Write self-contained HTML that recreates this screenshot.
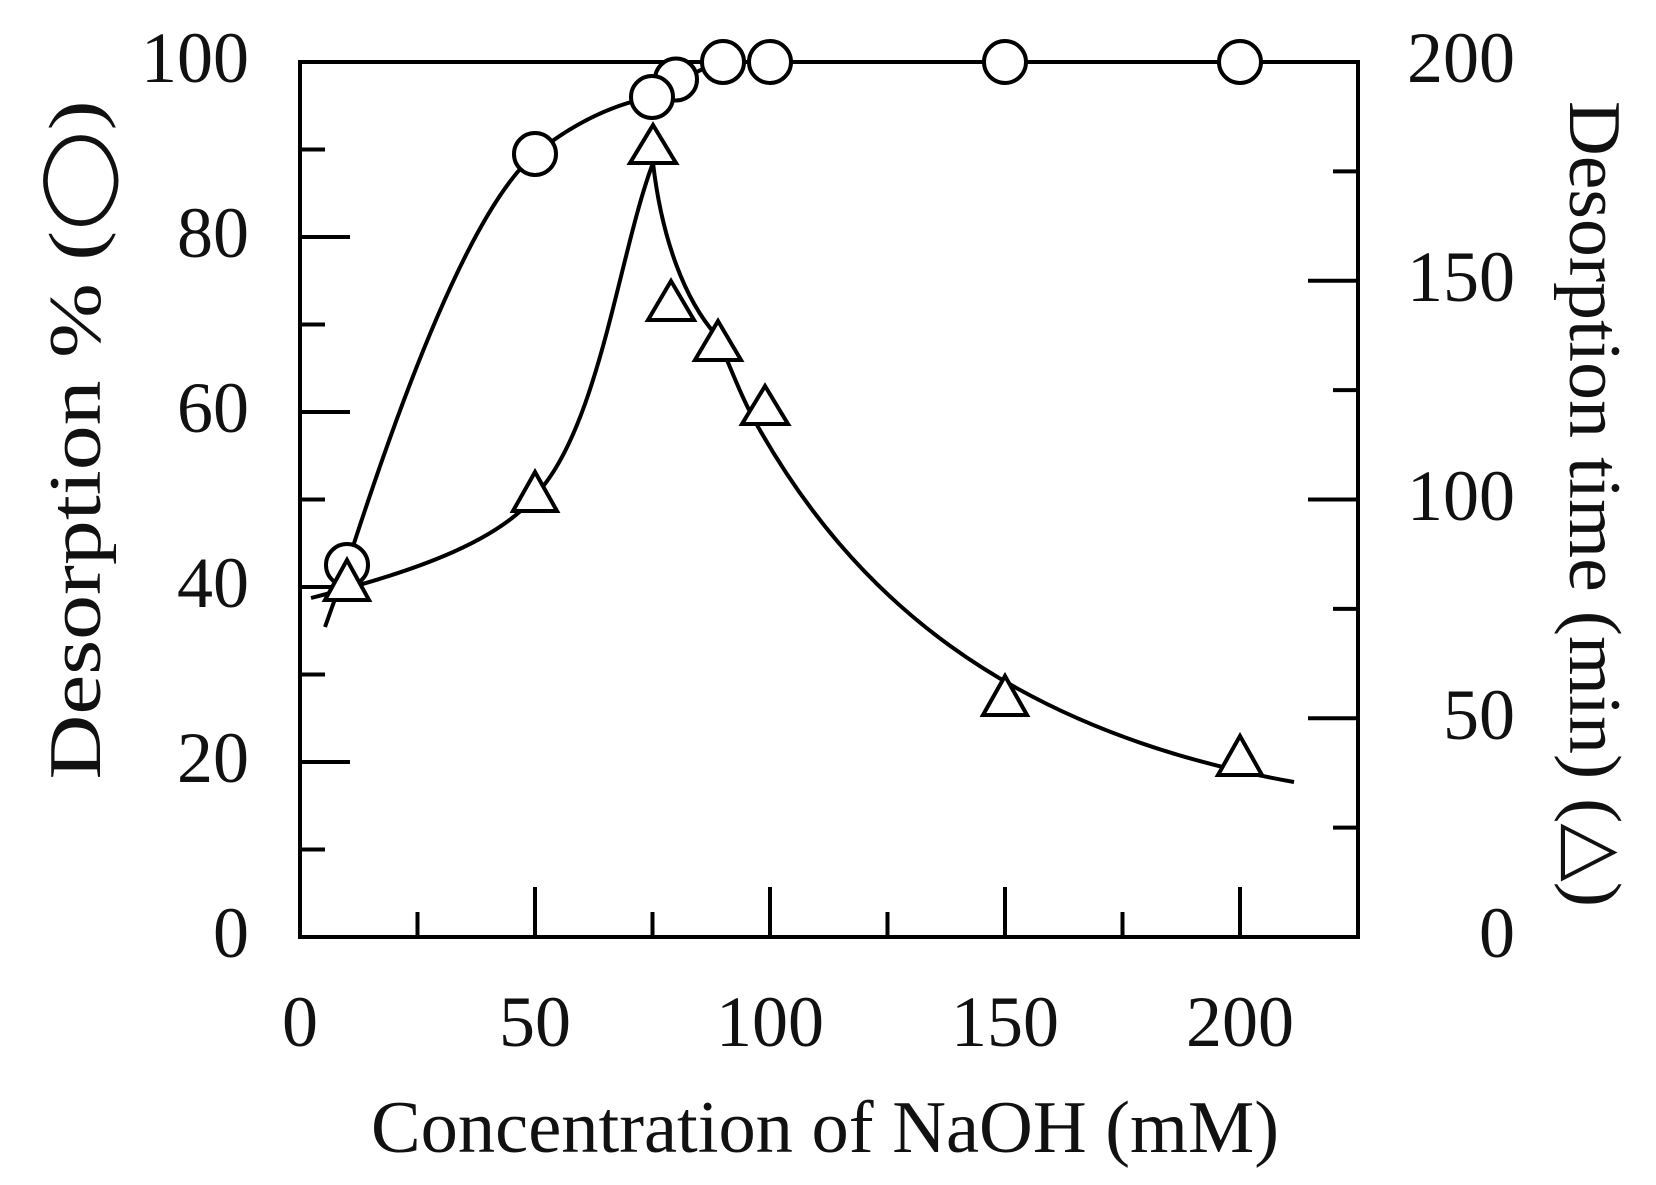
<!DOCTYPE html>
<html><head><style>
html,body{margin:0;padding:0;background:#fff;}
svg{display:block;}
text{font-family:"Liberation Serif",serif;fill:#111;}
</style></head><body>
<svg width="1656" height="1185" viewBox="0 0 1656 1185" xmlns="http://www.w3.org/2000/svg">
<g stroke="#000" stroke-width="4" fill="none">
<rect x="300" y="62" width="1058" height="875"/>
<path d="M300,149.5h25M300,237h50M300,324.5h25M300,412h50M300,499.5h25M300,587h50M300,674.5h25M300,762h50M300,849.5h25"/>
<path d="M1358,171.4h-25M1358,280.8h-50M1358,390.1h-25M1358,499.5h-50M1358,608.9h-25M1358,718.3h-50M1358,827.6h-25"/>
<path d="M417.5,937v-25M535,937v-50M652.5,937v-25M770,937v-50M887.5,937v-25M1005,937v-50M1122.5,937v-25M1240,937v-50"/>
<path d="M325,627 L347,565 C400,400 470,210 535,154 C580,118 620,103 652,97 C670,92 690,70 723,62 L1358,62"/>
<path d="M311,598 C400,575 500,545 540,490 C600,420 620,250 653,163 C662,240 685,300 716,335 C730,365 740,395 757,425 C850,590 1000,730 1294,782"/>
</g>
<g stroke="#000" stroke-width="4" fill="#fff">
<circle cx="347" cy="565" r="21"/>
<circle cx="535" cy="154" r="21"/>
<circle cx="676" cy="79.5" r="21"/>
<circle cx="652" cy="97" r="21"/>
<circle cx="723" cy="62" r="21"/>
<circle cx="770" cy="62" r="21"/>
<circle cx="1005" cy="62" r="21"/>
<circle cx="1240" cy="62" r="21"/>
<polygon points="347,560 325,600 369,600"/>
<polygon points="535,472 513,511 557,511"/>
<polygon points="653,125 630,163 676,163"/>
<polygon points="671,281 648,320 694,320"/>
<polygon points="718,321 695,360 741,360"/>
<polygon points="765,386 742,424 788,424"/>
<polygon points="1005,676 983,715 1027,715"/>
<polygon points="1240,736 1218,775 1262,775"/>
</g>
<g font-size="72" text-anchor="end">
<text x="249" y="82">100</text>
<text x="249" y="257">80</text>
<text x="249" y="432">60</text>
<text x="249" y="607">40</text>
<text x="249" y="782">20</text>
<text x="249" y="957">0</text>
</g>
<g font-size="72" text-anchor="end">
<text x="1515" y="82">200</text>
<text x="1515" y="301">150</text>
<text x="1515" y="520">100</text>
<text x="1515" y="739">50</text>
<text x="1515" y="957">0</text>
</g>
<g font-size="72" text-anchor="middle">
<text x="300" y="1046">0</text>
<text x="535" y="1046">50</text>
<text x="770" y="1046">100</text>
<text x="1005" y="1046">150</text>
<text x="1240" y="1046">200</text>
<text x="825" y="1152" font-size="74" textLength="908" lengthAdjust="spacingAndGlyphs">Concentration of NaOH (mM)</text>
<text transform="translate(100,440) rotate(-90)" font-size="74" textLength="679" lengthAdjust="spacingAndGlyphs">Desorption % (◯)</text>
<text transform="translate(1570,504) rotate(90)" font-size="74" textLength="806" lengthAdjust="spacingAndGlyphs">Desorption time (min) (△)</text>
</g>
</svg>
</body></html>
